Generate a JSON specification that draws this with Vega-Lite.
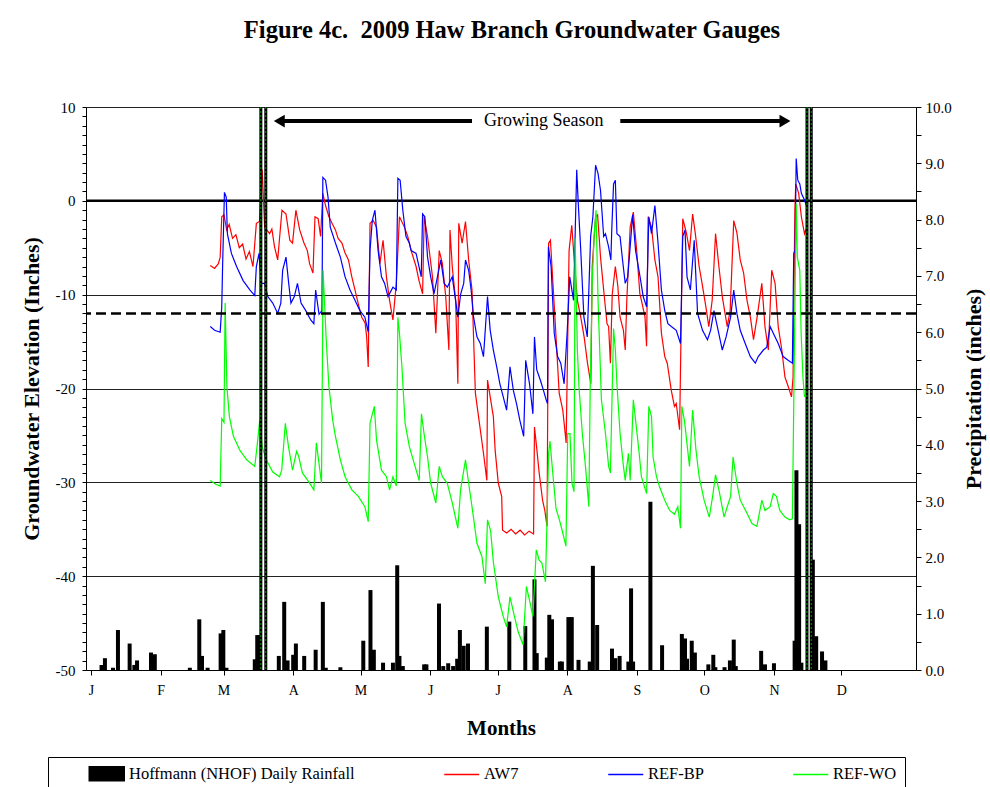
{
  "$schema": "https://vega.github.io/schema/vega-lite/v6.json",
  "width": 830,
  "height": 563,
  "autosize": {"type": "none"},
  "padding": {"left": 86, "top": 107, "right": 74, "bottom": 117},
  "background": "white",
  "config": {
    "font": "Liberation Serif",
    "view": {"stroke": null},
    "axis": {"labelColor": "black", "titleColor": "black", "tickColor": "black", "domainColor": "black", "labelFont": "Liberation Serif", "titleFont": "Liberation Serif"}
  },
  "title": {
    "text": "Figure 4c.\u00a0 2009 Haw Branch Groundwater Gauges",
    "font": "Liberation Serif",
    "fontSize": 24.5,
    "fontWeight": "bold",
    "color": "black",
    "anchor": "middle",
    "offset": 57,
    "dx": 11
  },
  "datasets": {
    "rain": [
      {"day": 4.7, "rain": 0.09}, {"day": 6.2, "rain": 0.21}, {"day": 9.8, "rain": 0.04}, {"day": 12, "rain": 0.71},
      {"day": 17.2, "rain": 0.47}, {"day": 19.3, "rain": 0.09}, {"day": 20.5, "rain": 0.17}, {"day": 26.7, "rain": 0.31},
      {"day": 28.4, "rain": 0.28}, {"day": 44, "rain": 0.04}, {"day": 48.2, "rain": 0.9}, {"day": 49.4, "rain": 0.25},
      {"day": 51.9, "rain": 0.04}, {"day": 57.7, "rain": 0.65}, {"day": 58.9, "rain": 0.71}, {"day": 60.3, "rain": 0.04},
      {"day": 72.9, "rain": 0.19}, {"day": 74, "rain": 0.62}, {"day": 74.9, "rain": 0.62}, {"day": 83.6, "rain": 0.25},
      {"day": 86, "rain": 1.21}, {"day": 87.5, "rain": 0.17}, {"day": 90, "rain": 0.27}, {"day": 91.2, "rain": 0.47},
      {"day": 94.9, "rain": 0.25}, {"day": 100, "rain": 0.36}, {"day": 103.2, "rain": 1.21}, {"day": 104.5, "rain": 0.04},
      {"day": 111, "rain": 0.05}, {"day": 121.2, "rain": 0.52}, {"day": 124.4, "rain": 1.42}, {"day": 125.9, "rain": 0.36},
      {"day": 130, "rain": 0.13}, {"day": 134.4, "rain": 0.13}, {"day": 136.3, "rain": 1.86}, {"day": 137.3, "rain": 0.25},
      {"day": 138.8, "rain": 0.07}, {"day": 148.3, "rain": 0.1}, {"day": 149.3, "rain": 0.1}, {"day": 154.9, "rain": 1.18},
      {"day": 156.8, "rain": 0.07}, {"day": 159, "rain": 0.12}, {"day": 161.2, "rain": 0.07}, {"day": 163, "rain": 0.2},
      {"day": 164.2, "rain": 0.71}, {"day": 165.9, "rain": 0.43}, {"day": 167.8, "rain": 0.47}, {"day": 176.2, "rain": 0.77},
      {"day": 186.2, "rain": 0.86}, {"day": 193.3, "rain": 0.78}, {"day": 197.4, "rain": 1.61}, {"day": 198.4, "rain": 0.3},
      {"day": 202.9, "rain": 0.22}, {"day": 204, "rain": 0.98}, {"day": 205.2, "rain": 0.9}, {"day": 208.7, "rain": 0.15},
      {"day": 209.6, "rain": 0.15}, {"day": 212.5, "rain": 0.94}, {"day": 214, "rain": 0.94}, {"day": 217, "rain": 0.18},
      {"day": 222, "rain": 0.15}, {"day": 223.4, "rain": 1.85}, {"day": 225.3, "rain": 0.8}, {"day": 231.9, "rain": 0.38},
      {"day": 233.4, "rain": 0.21}, {"day": 235.3, "rain": 0.25}, {"day": 239.2, "rain": 0.15}, {"day": 240.4, "rain": 1.45},
      {"day": 241.3, "rain": 0.15}, {"day": 249, "rain": 2.99}, {"day": 254.2, "rain": 0.44}, {"day": 263, "rain": 0.64},
      {"day": 264.4, "rain": 0.56}, {"day": 265.3, "rain": 0.2}, {"day": 267.4, "rain": 0.52}, {"day": 268.8, "rain": 0.31},
      {"day": 274.8, "rain": 0.1}, {"day": 277, "rain": 0.27}, {"day": 277.9, "rain": 0.05}, {"day": 282, "rain": 0.05},
      {"day": 284.4, "rain": 0.17}, {"day": 286.1, "rain": 0.54}, {"day": 287, "rain": 0.07}, {"day": 298.3, "rain": 0.34},
      {"day": 300, "rain": 0.1}, {"day": 304, "rain": 0.12}, {"day": 313.2, "rain": 0.52}, {"day": 314, "rain": 3.55},
      {"day": 315.2, "rain": 2.59}, {"day": 316.2, "rain": 0.13}, {"day": 321.3, "rain": 1.96}, {"day": 322.8, "rain": 0.6},
      {"day": 325.4, "rain": 0.33}, {"day": 326.9, "rain": 0.17}
    ],
    "gauges": [
      {"series": "AW7", "day": 53.1, "elev": -6.9}, {"series": "AW7", "day": 55, "elev": -7.2}, {"series": "AW7", "day": 56.7, "elev": -6.7},
      {"series": "AW7", "day": 57.5, "elev": -6.0}, {"series": "AW7", "day": 58.2, "elev": -1.7}, {"series": "AW7", "day": 59.2, "elev": -1.5},
      {"series": "AW7", "day": 60.4, "elev": -3.1}, {"series": "AW7", "day": 61.5, "elev": -2.5}, {"series": "AW7", "day": 63, "elev": -4.0},
      {"series": "AW7", "day": 64.5, "elev": -3.6}, {"series": "AW7", "day": 66, "elev": -5.0}, {"series": "AW7", "day": 67.5, "elev": -4.6},
      {"series": "AW7", "day": 69, "elev": -6.2}, {"series": "AW7", "day": 70.5, "elev": -5.4}, {"series": "AW7", "day": 72.1, "elev": -7.0},
      {"series": "AW7", "day": 73.6, "elev": -2.4}, {"series": "AW7", "day": 75, "elev": -2.2}, {"series": "AW7", "day": 76.2, "elev": 3.3},
      {"series": "AW7", "day": 77.3, "elev": -2.8}, {"series": "AW7", "day": 79.5, "elev": -3.5}, {"series": "AW7", "day": 80.5, "elev": -3.0},
      {"series": "AW7", "day": 81.7, "elev": -4.9}, {"series": "AW7", "day": 83.1, "elev": -6.3}, {"series": "AW7", "day": 85, "elev": -1.0},
      {"series": "AW7", "day": 86.8, "elev": -1.4}, {"series": "AW7", "day": 88.5, "elev": -4.2}, {"series": "AW7", "day": 89.7, "elev": -4.5},
      {"series": "AW7", "day": 91.2, "elev": -1.0}, {"series": "AW7", "day": 92.9, "elev": -3.1}, {"series": "AW7", "day": 94.8, "elev": -4.5},
      {"series": "AW7", "day": 96.3, "elev": -5.3}, {"series": "AW7", "day": 97.3, "elev": -6.7}, {"series": "AW7", "day": 98.8, "elev": -7.7},
      {"series": "AW7", "day": 99.7, "elev": -1.7}, {"series": "AW7", "day": 101.1, "elev": -1.9}, {"series": "AW7", "day": 102.2, "elev": -3.8},
      {"series": "AW7", "day": 103.2, "elev": 0.8}, {"series": "AW7", "day": 104.4, "elev": -0.5}, {"series": "AW7", "day": 105.9, "elev": -1.7},
      {"series": "AW7", "day": 107.5, "elev": -2.5}, {"series": "AW7", "day": 108.8, "elev": -3.1}, {"series": "AW7", "day": 110, "elev": -4.0},
      {"series": "AW7", "day": 111.7, "elev": -4.5}, {"series": "AW7", "day": 113, "elev": -5.5}, {"series": "AW7", "day": 114.6, "elev": -6.3},
      {"series": "AW7", "day": 116, "elev": -8.0}, {"series": "AW7", "day": 117.5, "elev": -9.5}, {"series": "AW7", "day": 119, "elev": -11.0},
      {"series": "AW7", "day": 120.5, "elev": -12.4}, {"series": "AW7", "day": 122, "elev": -13.0}, {"series": "AW7", "day": 122.7, "elev": -14.5},
      {"series": "AW7", "day": 123.4, "elev": -17.7}, {"series": "AW7", "day": 124.2, "elev": -2.4}, {"series": "AW7", "day": 125.6, "elev": -2.1},
      {"series": "AW7", "day": 127.1, "elev": -2.8}, {"series": "AW7", "day": 128.6, "elev": -6.7}, {"series": "AW7", "day": 130, "elev": -4.2},
      {"series": "AW7", "day": 131.5, "elev": -8.1}, {"series": "AW7", "day": 132.9, "elev": -10.6}, {"series": "AW7", "day": 134.4, "elev": -12.7},
      {"series": "AW7", "day": 135.9, "elev": -8.8}, {"series": "AW7", "day": 137.3, "elev": -1.7}, {"series": "AW7", "day": 139.5, "elev": -2.8},
      {"series": "AW7", "day": 141, "elev": -3.8}, {"series": "AW7", "day": 142.5, "elev": -5.3}, {"series": "AW7", "day": 144.7, "elev": -7.0},
      {"series": "AW7", "day": 146, "elev": -8.5}, {"series": "AW7", "day": 147.6, "elev": -9.9}, {"series": "AW7", "day": 148.3, "elev": -1.7},
      {"series": "AW7", "day": 149.8, "elev": -3.8}, {"series": "AW7", "day": 152, "elev": -8.1}, {"series": "AW7", "day": 153.5, "elev": -14.1},
      {"series": "AW7", "day": 155, "elev": -5.3}, {"series": "AW7", "day": 156.4, "elev": -6.7}, {"series": "AW7", "day": 157.9, "elev": -10.2},
      {"series": "AW7", "day": 159.3, "elev": -15.9}, {"series": "AW7", "day": 159.8, "elev": -3.1}, {"series": "AW7", "day": 160.8, "elev": -7.0},
      {"series": "AW7", "day": 162.3, "elev": -10.6}, {"series": "AW7", "day": 163.3, "elev": -19.5}, {"series": "AW7", "day": 163.7, "elev": -2.4},
      {"series": "AW7", "day": 165.2, "elev": -4.5}, {"series": "AW7", "day": 166.7, "elev": -2.2}, {"series": "AW7", "day": 168.1, "elev": -6.3},
      {"series": "AW7", "day": 169.6, "elev": -9.5}, {"series": "AW7", "day": 171.1, "elev": -20.5}, {"series": "AW7", "day": 172.5, "elev": -23.0},
      {"series": "AW7", "day": 174.7, "elev": -26.9}, {"series": "AW7", "day": 176.2, "elev": -29.8}, {"series": "AW7", "day": 176.5, "elev": -19.1},
      {"series": "AW7", "day": 179.1, "elev": -23.0}, {"series": "AW7", "day": 179.9, "elev": -26.6}, {"series": "AW7", "day": 181.3, "elev": -30.1},
      {"series": "AW7", "day": 182.8, "elev": -31.5}, {"series": "AW7", "day": 183.2, "elev": -35.1}, {"series": "AW7", "day": 185, "elev": -35.4},
      {"series": "AW7", "day": 187, "elev": -35.0}, {"series": "AW7", "day": 189, "elev": -35.5}, {"series": "AW7", "day": 191, "elev": -35.1},
      {"series": "AW7", "day": 193, "elev": -35.6}, {"series": "AW7", "day": 195, "elev": -35.2}, {"series": "AW7", "day": 197, "elev": -35.5},
      {"series": "AW7", "day": 197.4, "elev": -24.1}, {"series": "AW7", "day": 198.5, "elev": -26.6}, {"series": "AW7", "day": 199.5, "elev": -29.0},
      {"series": "AW7", "day": 201, "elev": -31.9}, {"series": "AW7", "day": 202, "elev": -33.0}, {"series": "AW7", "day": 203, "elev": -34.7},
      {"series": "AW7", "day": 203.7, "elev": -4.5}, {"series": "AW7", "day": 204.5, "elev": -4.2}, {"series": "AW7", "day": 206.5, "elev": -12.4},
      {"series": "AW7", "day": 208.4, "elev": -20.5}, {"series": "AW7", "day": 210, "elev": -22.3}, {"series": "AW7", "day": 211.5, "elev": -25.8},
      {"series": "AW7", "day": 212.8, "elev": -5.3}, {"series": "AW7", "day": 214, "elev": -2.6}, {"series": "AW7", "day": 215, "elev": -6.0},
      {"series": "AW7", "day": 216.5, "elev": -10.6}, {"series": "AW7", "day": 218, "elev": -12.4}, {"series": "AW7", "day": 219.5, "elev": -14.5},
      {"series": "AW7", "day": 221, "elev": -17.3}, {"series": "AW7", "day": 222.5, "elev": -19.5}, {"series": "AW7", "day": 223.1, "elev": -7.0},
      {"series": "AW7", "day": 224.6, "elev": -1.7}, {"series": "AW7", "day": 225.5, "elev": -1.5}, {"series": "AW7", "day": 226.8, "elev": -6.0},
      {"series": "AW7", "day": 228.2, "elev": -9.5}, {"series": "AW7", "day": 229.7, "elev": -13.1}, {"series": "AW7", "day": 230.4, "elev": -13.4},
      {"series": "AW7", "day": 231.2, "elev": -17.3}, {"series": "AW7", "day": 232, "elev": -10.0}, {"series": "AW7", "day": 233.4, "elev": -7.0},
      {"series": "AW7", "day": 234.5, "elev": -9.1}, {"series": "AW7", "day": 235.5, "elev": -12.4}, {"series": "AW7", "day": 237, "elev": -13.8},
      {"series": "AW7", "day": 237.8, "elev": -15.9}, {"series": "AW7", "day": 238.5, "elev": -10.6}, {"series": "AW7", "day": 240, "elev": -2.8},
      {"series": "AW7", "day": 241.4, "elev": -1.2}, {"series": "AW7", "day": 242.9, "elev": -5.3}, {"series": "AW7", "day": 244.3, "elev": -9.9},
      {"series": "AW7", "day": 245, "elev": -10.6}, {"series": "AW7", "day": 246.6, "elev": -12.4}, {"series": "AW7", "day": 247.3, "elev": -15.5},
      {"series": "AW7", "day": 248, "elev": -1.7}, {"series": "AW7", "day": 249.5, "elev": -2.8}, {"series": "AW7", "day": 251, "elev": -6.3},
      {"series": "AW7", "day": 252.4, "elev": -8.1}, {"series": "AW7", "day": 253.9, "elev": -14.1}, {"series": "AW7", "day": 255.4, "elev": -16.6},
      {"series": "AW7", "day": 256.5, "elev": -17.3}, {"series": "AW7", "day": 258.3, "elev": -20.2}, {"series": "AW7", "day": 259.7, "elev": -21.9},
      {"series": "AW7", "day": 260.5, "elev": -21.6}, {"series": "AW7", "day": 262, "elev": -24.4}, {"series": "AW7", "day": 263.4, "elev": -1.9},
      {"series": "AW7", "day": 265, "elev": -3.4}, {"series": "AW7", "day": 266.4, "elev": -5.3}, {"series": "AW7", "day": 267.8, "elev": -1.4},
      {"series": "AW7", "day": 269, "elev": -3.5}, {"series": "AW7", "day": 270.7, "elev": -7.0}, {"series": "AW7", "day": 272, "elev": -8.8},
      {"series": "AW7", "day": 273.7, "elev": -11.3}, {"series": "AW7", "day": 275, "elev": -13.4}, {"series": "AW7", "day": 276.5, "elev": -10.6},
      {"series": "AW7", "day": 278, "elev": -3.5}, {"series": "AW7", "day": 279.5, "elev": -7.0}, {"series": "AW7", "day": 281, "elev": -10.2},
      {"series": "AW7", "day": 283.2, "elev": -13.4}, {"series": "AW7", "day": 284.5, "elev": -11.7}, {"series": "AW7", "day": 286.1, "elev": -2.1},
      {"series": "AW7", "day": 287.5, "elev": -3.4}, {"series": "AW7", "day": 289, "elev": -6.3}, {"series": "AW7", "day": 290.5, "elev": -7.7},
      {"series": "AW7", "day": 292, "elev": -10.6}, {"series": "AW7", "day": 293.5, "elev": -12.4}, {"series": "AW7", "day": 294.9, "elev": -14.8},
      {"series": "AW7", "day": 296.5, "elev": -12.4}, {"series": "AW7", "day": 298.6, "elev": -8.8}, {"series": "AW7", "day": 300, "elev": -13.4},
      {"series": "AW7", "day": 301.5, "elev": -15.9}, {"series": "AW7", "day": 303, "elev": -7.4}, {"series": "AW7", "day": 304.5, "elev": -8.8},
      {"series": "AW7", "day": 305.9, "elev": -13.4}, {"series": "AW7", "day": 307.5, "elev": -15.9}, {"series": "AW7", "day": 308.9, "elev": -18.8},
      {"series": "AW7", "day": 310.5, "elev": -19.9}, {"series": "AW7", "day": 311.8, "elev": -20.9}, {"series": "AW7", "day": 312.5, "elev": -18.8},
      {"series": "AW7", "day": 313.3, "elev": -1.0}, {"series": "AW7", "day": 313.7, "elev": 1.8}, {"series": "AW7", "day": 315, "elev": 0.8},
      {"series": "AW7", "day": 316.2, "elev": -1.7}, {"series": "AW7", "day": 317.6, "elev": -3.5}, {"series": "AW7", "day": 318.4, "elev": -3.0},

      {"series": "REF-BP", "day": 53.1, "elev": -13.4}, {"series": "REF-BP", "day": 55, "elev": -13.8}, {"series": "REF-BP", "day": 57.5, "elev": -14.0},
      {"series": "REF-BP", "day": 58.2, "elev": -11.3}, {"series": "REF-BP", "day": 58.6, "elev": -6.7}, {"series": "REF-BP", "day": 59.4, "elev": 0.9},
      {"series": "REF-BP", "day": 60.2, "elev": 0.4}, {"series": "REF-BP", "day": 60.7, "elev": -3.5}, {"series": "REF-BP", "day": 62.5, "elev": -5.6},
      {"series": "REF-BP", "day": 64.8, "elev": -7.0}, {"series": "REF-BP", "day": 67.7, "elev": -8.5}, {"series": "REF-BP", "day": 70.7, "elev": -9.5},
      {"series": "REF-BP", "day": 72.9, "elev": -10.1}, {"series": "REF-BP", "day": 73.6, "elev": -7.0}, {"series": "REF-BP", "day": 74.8, "elev": -5.6},
      {"series": "REF-BP", "day": 75.8, "elev": -8.8}, {"series": "REF-BP", "day": 77.3, "elev": -8.8}, {"series": "REF-BP", "day": 78.7, "elev": -10.2},
      {"series": "REF-BP", "day": 80.9, "elev": -10.9}, {"series": "REF-BP", "day": 83.1, "elev": -12.0}, {"series": "REF-BP", "day": 84.5, "elev": -10.9},
      {"series": "REF-BP", "day": 85.3, "elev": -7.4}, {"series": "REF-BP", "day": 86.8, "elev": -6.0}, {"series": "REF-BP", "day": 88, "elev": -8.8},
      {"series": "REF-BP", "day": 89, "elev": -10.9}, {"series": "REF-BP", "day": 90.5, "elev": -10.2}, {"series": "REF-BP", "day": 91.9, "elev": -8.8},
      {"series": "REF-BP", "day": 93.5, "elev": -10.9}, {"series": "REF-BP", "day": 95.6, "elev": -11.7}, {"series": "REF-BP", "day": 97.8, "elev": -12.7},
      {"series": "REF-BP", "day": 99.2, "elev": -13.1}, {"series": "REF-BP", "day": 100, "elev": -9.5}, {"series": "REF-BP", "day": 101.5, "elev": -12.1},
      {"series": "REF-BP", "day": 102.8, "elev": -11.7}, {"series": "REF-BP", "day": 103.2, "elev": 2.5}, {"series": "REF-BP", "day": 104.4, "elev": 2.2},
      {"series": "REF-BP", "day": 105.5, "elev": 0.4}, {"series": "REF-BP", "day": 106.5, "elev": -2.8}, {"series": "REF-BP", "day": 108.8, "elev": -4.5},
      {"series": "REF-BP", "day": 111, "elev": -6.0}, {"series": "REF-BP", "day": 113.1, "elev": -8.1}, {"series": "REF-BP", "day": 115.3, "elev": -9.5},
      {"series": "REF-BP", "day": 117.5, "elev": -10.6}, {"series": "REF-BP", "day": 119.7, "elev": -11.7}, {"series": "REF-BP", "day": 121.9, "elev": -12.4},
      {"series": "REF-BP", "day": 123.4, "elev": -14.0}, {"series": "REF-BP", "day": 124.2, "elev": -5.3}, {"series": "REF-BP", "day": 125.2, "elev": -2.1},
      {"series": "REF-BP", "day": 126.4, "elev": -1.0}, {"series": "REF-BP", "day": 127.8, "elev": -5.3}, {"series": "REF-BP", "day": 129.3, "elev": -8.1},
      {"series": "REF-BP", "day": 130.7, "elev": -8.8}, {"series": "REF-BP", "day": 132.2, "elev": -10.2}, {"series": "REF-BP", "day": 134.4, "elev": -9.2},
      {"series": "REF-BP", "day": 135.9, "elev": -9.5}, {"series": "REF-BP", "day": 136.6, "elev": 2.4}, {"series": "REF-BP", "day": 137.6, "elev": 2.2},
      {"series": "REF-BP", "day": 138.8, "elev": -1.0}, {"series": "REF-BP", "day": 140.2, "elev": -3.8}, {"series": "REF-BP", "day": 141.7, "elev": -4.5},
      {"series": "REF-BP", "day": 142.5, "elev": -5.3}, {"series": "REF-BP", "day": 144.7, "elev": -5.6}, {"series": "REF-BP", "day": 146, "elev": -7.0},
      {"series": "REF-BP", "day": 147, "elev": -8.1}, {"series": "REF-BP", "day": 147.6, "elev": -1.4}, {"series": "REF-BP", "day": 148.6, "elev": -1.7},
      {"series": "REF-BP", "day": 149.8, "elev": -6.0}, {"series": "REF-BP", "day": 151.2, "elev": -8.1}, {"series": "REF-BP", "day": 152.7, "elev": -9.9},
      {"series": "REF-BP", "day": 154.2, "elev": -8.1}, {"series": "REF-BP", "day": 155.7, "elev": -6.3}, {"series": "REF-BP", "day": 157.2, "elev": -8.8},
      {"series": "REF-BP", "day": 158.6, "elev": -9.2}, {"series": "REF-BP", "day": 160.8, "elev": -8.1}, {"series": "REF-BP", "day": 162.3, "elev": -10.6},
      {"series": "REF-BP", "day": 163.3, "elev": -12.4}, {"series": "REF-BP", "day": 164.5, "elev": -10.0}, {"series": "REF-BP", "day": 165.9, "elev": -8.8},
      {"series": "REF-BP", "day": 166.7, "elev": -6.3}, {"series": "REF-BP", "day": 168.1, "elev": -7.4}, {"series": "REF-BP", "day": 169.2, "elev": -9.5},
      {"series": "REF-BP", "day": 170.3, "elev": -12.4}, {"series": "REF-BP", "day": 171.8, "elev": -14.5}, {"series": "REF-BP", "day": 173.3, "elev": -15.2},
      {"series": "REF-BP", "day": 174.7, "elev": -16.6}, {"series": "REF-BP", "day": 176.5, "elev": -10.2}, {"series": "REF-BP", "day": 177.7, "elev": -13.8},
      {"series": "REF-BP", "day": 179.1, "elev": -15.9}, {"series": "REF-BP", "day": 180.6, "elev": -17.7}, {"series": "REF-BP", "day": 182, "elev": -19.5},
      {"series": "REF-BP", "day": 183.5, "elev": -20.9}, {"series": "REF-BP", "day": 185, "elev": -22.3}, {"series": "REF-BP", "day": 186.5, "elev": -17.7},
      {"series": "REF-BP", "day": 188, "elev": -20.2}, {"series": "REF-BP", "day": 189.4, "elev": -21.6}, {"series": "REF-BP", "day": 190.9, "elev": -23.4},
      {"series": "REF-BP", "day": 192.6, "elev": -25.1}, {"series": "REF-BP", "day": 193.5, "elev": -17.0}, {"series": "REF-BP", "day": 195.2, "elev": -19.5},
      {"series": "REF-BP", "day": 196.7, "elev": -22.7}, {"series": "REF-BP", "day": 197.4, "elev": -14.5}, {"series": "REF-BP", "day": 198.4, "elev": -18.0},
      {"series": "REF-BP", "day": 200, "elev": -19.1}, {"series": "REF-BP", "day": 201.4, "elev": -20.2}, {"series": "REF-BP", "day": 202.6, "elev": -21.2},
      {"series": "REF-BP", "day": 203.2, "elev": -21.6}, {"series": "REF-BP", "day": 203.6, "elev": -4.9}, {"series": "REF-BP", "day": 204.8, "elev": -7.0},
      {"series": "REF-BP", "day": 206.2, "elev": -14.1}, {"series": "REF-BP", "day": 207.7, "elev": -16.6}, {"series": "REF-BP", "day": 209.1, "elev": -17.3},
      {"series": "REF-BP", "day": 210.6, "elev": -19.5}, {"series": "REF-BP", "day": 212, "elev": -13.8}, {"series": "REF-BP", "day": 213.1, "elev": -8.1},
      {"series": "REF-BP", "day": 214.8, "elev": -10.6}, {"series": "REF-BP", "day": 216.2, "elev": 3.3}, {"series": "REF-BP", "day": 216.9, "elev": -0.3},
      {"series": "REF-BP", "day": 218, "elev": -5.3}, {"series": "REF-BP", "day": 219.4, "elev": -12.4}, {"series": "REF-BP", "day": 220.9, "elev": -14.5},
      {"series": "REF-BP", "day": 222.4, "elev": -3.8}, {"series": "REF-BP", "day": 223.4, "elev": -1.7}, {"series": "REF-BP", "day": 224.6, "elev": 3.8},
      {"series": "REF-BP", "day": 225.7, "elev": 2.9}, {"series": "REF-BP", "day": 226.8, "elev": 1.1}, {"series": "REF-BP", "day": 228.2, "elev": -3.8},
      {"series": "REF-BP", "day": 229, "elev": -3.5}, {"series": "REF-BP", "day": 230.4, "elev": -4.9}, {"series": "REF-BP", "day": 231.4, "elev": -6.3},
      {"series": "REF-BP", "day": 231.8, "elev": -3.1}, {"series": "REF-BP", "day": 232.6, "elev": 1.8}, {"series": "REF-BP", "day": 233.4, "elev": 2.2},
      {"series": "REF-BP", "day": 234.1, "elev": -3.5}, {"series": "REF-BP", "day": 235.5, "elev": -3.8}, {"series": "REF-BP", "day": 236.6, "elev": -6.3},
      {"series": "REF-BP", "day": 237.8, "elev": -8.8}, {"series": "REF-BP", "day": 238.9, "elev": -8.1}, {"series": "REF-BP", "day": 240, "elev": -4.9},
      {"series": "REF-BP", "day": 241.1, "elev": -1.5}, {"series": "REF-BP", "day": 242.4, "elev": -5.3}, {"series": "REF-BP", "day": 244.4, "elev": -8.1},
      {"series": "REF-BP", "day": 245.8, "elev": -10.2}, {"series": "REF-BP", "day": 247.3, "elev": -11.3}, {"series": "REF-BP", "day": 248.3, "elev": -1.7},
      {"series": "REF-BP", "day": 249.5, "elev": -3.5}, {"series": "REF-BP", "day": 251, "elev": -0.5}, {"series": "REF-BP", "day": 252.4, "elev": -4.5},
      {"series": "REF-BP", "day": 253.9, "elev": -9.5}, {"series": "REF-BP", "day": 255.4, "elev": -11.7}, {"series": "REF-BP", "day": 256.8, "elev": -13.1},
      {"series": "REF-BP", "day": 258.3, "elev": -13.4}, {"series": "REF-BP", "day": 260.5, "elev": -13.8}, {"series": "REF-BP", "day": 262.4, "elev": -15.2},
      {"series": "REF-BP", "day": 263.4, "elev": -3.8}, {"series": "REF-BP", "day": 264.4, "elev": -3.1}, {"series": "REF-BP", "day": 265.3, "elev": -8.1},
      {"series": "REF-BP", "day": 266.8, "elev": -9.5}, {"series": "REF-BP", "day": 268.5, "elev": -4.2}, {"series": "REF-BP", "day": 270, "elev": -12.0},
      {"series": "REF-BP", "day": 272.2, "elev": -13.8}, {"series": "REF-BP", "day": 274.4, "elev": -14.8}, {"series": "REF-BP", "day": 275.8, "elev": -13.8},
      {"series": "REF-BP", "day": 277.3, "elev": -11.7}, {"series": "REF-BP", "day": 278.8, "elev": -13.4}, {"series": "REF-BP", "day": 281, "elev": -15.9},
      {"series": "REF-BP", "day": 282.7, "elev": -14.5}, {"series": "REF-BP", "day": 284.7, "elev": -12.4}, {"series": "REF-BP", "day": 286.1, "elev": -9.5},
      {"series": "REF-BP", "day": 287.5, "elev": -12.0}, {"series": "REF-BP", "day": 289, "elev": -13.8}, {"series": "REF-BP", "day": 291.2, "elev": -15.2},
      {"series": "REF-BP", "day": 293.5, "elev": -16.6}, {"series": "REF-BP", "day": 295.7, "elev": -17.3}, {"series": "REF-BP", "day": 297, "elev": -16.6},
      {"series": "REF-BP", "day": 299.3, "elev": -15.9}, {"series": "REF-BP", "day": 300.8, "elev": -15.6}, {"series": "REF-BP", "day": 302.3, "elev": -13.4},
      {"series": "REF-BP", "day": 303.7, "elev": -14.1}, {"series": "REF-BP", "day": 305.9, "elev": -15.2}, {"series": "REF-BP", "day": 308.1, "elev": -16.6},
      {"series": "REF-BP", "day": 310.3, "elev": -17.0}, {"series": "REF-BP", "day": 312.2, "elev": -17.3}, {"series": "REF-BP", "day": 312.8, "elev": -5.6},
      {"series": "REF-BP", "day": 313.4, "elev": -5.3}, {"series": "REF-BP", "day": 313.9, "elev": 4.5}, {"series": "REF-BP", "day": 314.6, "elev": 2.2},
      {"series": "REF-BP", "day": 315.5, "elev": 1.8}, {"series": "REF-BP", "day": 316.2, "elev": 0.8}, {"series": "REF-BP", "day": 317.6, "elev": 0.1},
      {"series": "REF-BP", "day": 318.4, "elev": -0.5},

      {"series": "REF-WO", "day": 53.1, "elev": -29.8}, {"series": "REF-WO", "day": 55.5, "elev": -30.2}, {"series": "REF-WO", "day": 57.5, "elev": -30.4},
      {"series": "REF-WO", "day": 58.2, "elev": -23.2}, {"series": "REF-WO", "day": 59.2, "elev": -23.6}, {"series": "REF-WO", "day": 59.7, "elev": -10.9},
      {"series": "REF-WO", "day": 60.5, "elev": -19.8}, {"series": "REF-WO", "day": 61.6, "elev": -23.0}, {"series": "REF-WO", "day": 63.4, "elev": -25.1},
      {"series": "REF-WO", "day": 66.3, "elev": -26.6}, {"series": "REF-WO", "day": 69.3, "elev": -27.6}, {"series": "REF-WO", "day": 72.9, "elev": -28.3},
      {"series": "REF-WO", "day": 73.9, "elev": -26.2}, {"series": "REF-WO", "day": 75.1, "elev": -23.4}, {"series": "REF-WO", "day": 76.2, "elev": -26.2},
      {"series": "REF-WO", "day": 78, "elev": -27.6}, {"series": "REF-WO", "day": 80.9, "elev": -28.9}, {"series": "REF-WO", "day": 83.9, "elev": -29.4},
      {"series": "REF-WO", "day": 84.9, "elev": -28.7}, {"series": "REF-WO", "day": 86.5, "elev": -23.7}, {"series": "REF-WO", "day": 87.9, "elev": -26.2},
      {"series": "REF-WO", "day": 89.7, "elev": -28.7}, {"series": "REF-WO", "day": 91.5, "elev": -26.7}, {"series": "REF-WO", "day": 92.4, "elev": -27.2},
      {"series": "REF-WO", "day": 94.1, "elev": -29.0}, {"series": "REF-WO", "day": 96.8, "elev": -29.9}, {"series": "REF-WO", "day": 99.2, "elev": -30.8},
      {"series": "REF-WO", "day": 100.3, "elev": -25.8}, {"series": "REF-WO", "day": 101.5, "elev": -28.0}, {"series": "REF-WO", "day": 102.6, "elev": -30.1},
      {"series": "REF-WO", "day": 103.3, "elev": -7.4}, {"series": "REF-WO", "day": 104.7, "elev": -14.8}, {"series": "REF-WO", "day": 105.9, "elev": -19.8},
      {"series": "REF-WO", "day": 107.6, "elev": -23.4}, {"series": "REF-WO", "day": 108.8, "elev": -25.1}, {"series": "REF-WO", "day": 111, "elev": -27.6},
      {"series": "REF-WO", "day": 113.1, "elev": -29.4}, {"series": "REF-WO", "day": 116.1, "elev": -30.8}, {"series": "REF-WO", "day": 119, "elev": -31.5},
      {"series": "REF-WO", "day": 121.9, "elev": -32.6}, {"series": "REF-WO", "day": 123.4, "elev": -34.2}, {"series": "REF-WO", "day": 124.2, "elev": -23.7},
      {"series": "REF-WO", "day": 126.1, "elev": -21.9}, {"series": "REF-WO", "day": 127.1, "elev": -25.5}, {"series": "REF-WO", "day": 129.3, "elev": -28.7},
      {"series": "REF-WO", "day": 131.5, "elev": -29.4}, {"series": "REF-WO", "day": 132.9, "elev": -30.8}, {"series": "REF-WO", "day": 134.4, "elev": -29.4},
      {"series": "REF-WO", "day": 135.9, "elev": -30.4}, {"series": "REF-WO", "day": 136.6, "elev": -12.4}, {"series": "REF-WO", "day": 137.3, "elev": -14.1},
      {"series": "REF-WO", "day": 138.4, "elev": -17.7}, {"series": "REF-WO", "day": 139.8, "elev": -23.7}, {"series": "REF-WO", "day": 141.7, "elev": -26.2},
      {"series": "REF-WO", "day": 143.9, "elev": -28.0}, {"series": "REF-WO", "day": 146.1, "elev": -29.8}, {"series": "REF-WO", "day": 147.1, "elev": -22.7},
      {"series": "REF-WO", "day": 148.3, "elev": -24.9}, {"series": "REF-WO", "day": 149.8, "elev": -27.3}, {"series": "REF-WO", "day": 151.2, "elev": -30.1},
      {"series": "REF-WO", "day": 153.5, "elev": -32.2}, {"series": "REF-WO", "day": 155, "elev": -28.3}, {"series": "REF-WO", "day": 156.4, "elev": -29.4},
      {"series": "REF-WO", "day": 158.6, "elev": -30.1}, {"series": "REF-WO", "day": 160.8, "elev": -32.2}, {"series": "REF-WO", "day": 163.3, "elev": -34.9},
      {"series": "REF-WO", "day": 164.5, "elev": -30.8}, {"series": "REF-WO", "day": 166.7, "elev": -27.6}, {"series": "REF-WO", "day": 168.1, "elev": -30.1},
      {"series": "REF-WO", "day": 169.6, "elev": -32.6}, {"series": "REF-WO", "day": 171.8, "elev": -36.5}, {"series": "REF-WO", "day": 174, "elev": -37.9},
      {"series": "REF-WO", "day": 175.5, "elev": -40.8}, {"series": "REF-WO", "day": 176.5, "elev": -34.0}, {"series": "REF-WO", "day": 177.9, "elev": -35.2},
      {"series": "REF-WO", "day": 179.1, "elev": -38.5}, {"series": "REF-WO", "day": 181.3, "elev": -42.2}, {"series": "REF-WO", "day": 183.5, "elev": -44.3},
      {"series": "REF-WO", "day": 185, "elev": -45.4}, {"series": "REF-WO", "day": 186.5, "elev": -42.2}, {"series": "REF-WO", "day": 188.5, "elev": -44.3},
      {"series": "REF-WO", "day": 190.1, "elev": -45.9}, {"series": "REF-WO", "day": 192.3, "elev": -47.3}, {"series": "REF-WO", "day": 193.8, "elev": -41.1},
      {"series": "REF-WO", "day": 195.5, "elev": -42.9}, {"series": "REF-WO", "day": 196.7, "elev": -44.3}, {"series": "REF-WO", "day": 198.2, "elev": -37.2},
      {"series": "REF-WO", "day": 199.5, "elev": -38.3}, {"series": "REF-WO", "day": 200.7, "elev": -38.6}, {"series": "REF-WO", "day": 202.3, "elev": -40.6},
      {"series": "REF-WO", "day": 203.7, "elev": -26.9}, {"series": "REF-WO", "day": 204.3, "elev": -25.6}, {"series": "REF-WO", "day": 205.5, "elev": -28.9},
      {"series": "REF-WO", "day": 207, "elev": -32.8}, {"series": "REF-WO", "day": 208.5, "elev": -34.0}, {"series": "REF-WO", "day": 210, "elev": -35.4},
      {"series": "REF-WO", "day": 211.4, "elev": -36.8}, {"series": "REF-WO", "day": 212.2, "elev": -24.8}, {"series": "REF-WO", "day": 213.2, "elev": -24.8},
      {"series": "REF-WO", "day": 214.1, "elev": -30.1}, {"series": "REF-WO", "day": 215, "elev": -31.0}, {"series": "REF-WO", "day": 215.5, "elev": -4.0},
      {"series": "REF-WO", "day": 216.5, "elev": -15.9}, {"series": "REF-WO", "day": 217.2, "elev": -19.8}, {"series": "REF-WO", "day": 218.7, "elev": -24.8},
      {"series": "REF-WO", "day": 220.1, "elev": -28.3}, {"series": "REF-WO", "day": 221.6, "elev": -32.6}, {"series": "REF-WO", "day": 222.2, "elev": -20.0},
      {"series": "REF-WO", "day": 223.1, "elev": -8.8}, {"series": "REF-WO", "day": 224, "elev": -3.5}, {"series": "REF-WO", "day": 224.8, "elev": -1.0},
      {"series": "REF-WO", "day": 225.7, "elev": -10.6}, {"series": "REF-WO", "day": 227.2, "elev": -21.2}, {"series": "REF-WO", "day": 229, "elev": -24.8},
      {"series": "REF-WO", "day": 230.4, "elev": -28.3}, {"series": "REF-WO", "day": 231.2, "elev": -29.0}, {"series": "REF-WO", "day": 232.6, "elev": -13.6},
      {"series": "REF-WO", "day": 233.4, "elev": -15.9}, {"series": "REF-WO", "day": 234.1, "elev": -19.5}, {"series": "REF-WO", "day": 235.5, "elev": -24.8},
      {"series": "REF-WO", "day": 237, "elev": -28.3}, {"series": "REF-WO", "day": 237.8, "elev": -29.8}, {"series": "REF-WO", "day": 239.2, "elev": -26.9},
      {"series": "REF-WO", "day": 240, "elev": -29.8}, {"series": "REF-WO", "day": 241.4, "elev": -21.2}, {"series": "REF-WO", "day": 242.1, "elev": -22.7},
      {"series": "REF-WO", "day": 244, "elev": -26.9}, {"series": "REF-WO", "day": 245, "elev": -29.4}, {"series": "REF-WO", "day": 247.3, "elev": -31.2},
      {"series": "REF-WO", "day": 248.3, "elev": -21.9}, {"series": "REF-WO", "day": 249.5, "elev": -23.0}, {"series": "REF-WO", "day": 250.2, "elev": -27.3},
      {"series": "REF-WO", "day": 251.7, "elev": -29.4}, {"series": "REF-WO", "day": 253.1, "elev": -30.5}, {"series": "REF-WO", "day": 255.4, "elev": -31.9},
      {"series": "REF-WO", "day": 257.6, "elev": -33.0}, {"series": "REF-WO", "day": 259.7, "elev": -33.4}, {"series": "REF-WO", "day": 261.2, "elev": -32.6},
      {"series": "REF-WO", "day": 262.4, "elev": -34.9}, {"series": "REF-WO", "day": 263, "elev": -21.9}, {"series": "REF-WO", "day": 264.2, "elev": -23.5},
      {"series": "REF-WO", "day": 266.4, "elev": -28.3}, {"series": "REF-WO", "day": 267.8, "elev": -22.3}, {"series": "REF-WO", "day": 269.3, "elev": -26.6},
      {"series": "REF-WO", "day": 270.7, "elev": -29.4}, {"series": "REF-WO", "day": 272.9, "elev": -31.9}, {"series": "REF-WO", "day": 275.2, "elev": -33.7},
      {"series": "REF-WO", "day": 276.7, "elev": -31.5}, {"series": "REF-WO", "day": 278, "elev": -29.2}, {"series": "REF-WO", "day": 279.5, "elev": -30.8},
      {"series": "REF-WO", "day": 281.8, "elev": -33.7}, {"series": "REF-WO", "day": 283.2, "elev": -32.6}, {"series": "REF-WO", "day": 284.7, "elev": -31.5},
      {"series": "REF-WO", "day": 285.8, "elev": -27.3}, {"series": "REF-WO", "day": 287.5, "elev": -30.1}, {"series": "REF-WO", "day": 289, "elev": -31.9},
      {"series": "REF-WO", "day": 292, "elev": -33.3}, {"series": "REF-WO", "day": 294.2, "elev": -34.4}, {"series": "REF-WO", "day": 296.4, "elev": -34.7},
      {"series": "REF-WO", "day": 298.6, "elev": -31.9}, {"series": "REF-WO", "day": 300, "elev": -33.0}, {"series": "REF-WO", "day": 302.3, "elev": -32.6},
      {"series": "REF-WO", "day": 303.7, "elev": -31.2}, {"series": "REF-WO", "day": 305.1, "elev": -31.5}, {"series": "REF-WO", "day": 306.6, "elev": -33.0},
      {"series": "REF-WO", "day": 308.9, "elev": -33.7}, {"series": "REF-WO", "day": 311, "elev": -34.0}, {"series": "REF-WO", "day": 312.2, "elev": -33.9},
      {"series": "REF-WO", "day": 312.8, "elev": -21.9}, {"series": "REF-WO", "day": 313.4, "elev": -9.9}, {"series": "REF-WO", "day": 313.9, "elev": -0.3},
      {"series": "REF-WO", "day": 314.4, "elev": -6.0}, {"series": "REF-WO", "day": 315.5, "elev": -7.4}, {"series": "REF-WO", "day": 316.1, "elev": -14.1},
      {"series": "REF-WO", "day": 316.9, "elev": -18.8}, {"series": "REF-WO", "day": 317.6, "elev": -20.9}
    ],
    "season": [{"day": 75.6}, {"day": 77.8}, {"day": 318.7}, {"day": 320.6}]
  },
  "layer": [
    {
      "data": {"name": "rain"},
      "mark": {"type": "bar", "size": 4},
      "encoding": {
        "x": {
          "field": "day", "type": "quantitative", "title": "Months",
          "scale": {"domain": [0, 365], "nice": false, "zero": false},
          "axis": {
            "title": "Months",
            "values": [0, 31, 59, 90, 120, 151, 181, 212, 243, 273, 304, 334],
            "tickCount": 50,
            "labelExpr": "['J','F','M','A','M','J','J','A','S','O','N','D'][indexof([0,31,59,90,120,151,181,212,243,273,304,334], datum.value)]",
            "grid": false, "tickSize": 5, "labelFontSize": 14, "labelPadding": 8,
            "titleFontSize": 21, "titleFontWeight": "bold", "titlePadding": 20,
            "labelOverlap": false, "labelFlush": false
          }
        },
        "y": {
          "field": "rain", "type": "quantitative",
          "scale": {"domain": [0, 10], "nice": false},
          "axis": {
            "orient": "right",
            "title": "Precipitation (inches)",
            "values": [0, 0.5, 1, 1.5, 2, 2.5, 3, 3.5, 4, 4.5, 5, 5.5, 6, 6.5, 7, 7.5, 8, 8.5, 9, 9.5, 10],
            "tickCount": 50,
            "labelExpr": "datum.value % 1 === 0 ? format(datum.value, '.1f') : ''",
            "grid": false, "tickSize": 5, "labelFontSize": 15, "labelPadding": 4,
            "titleFontSize": 22, "titleFontWeight": "bold", "titlePadding": 12, "titleAngle": -90, "titleBaseline": "top",
            "labelOverlap": false
          }
        },
        "color": {"datum": "Hoffmann (NHOF) Daily Rainfall", "type": "nominal"}
      }
    },
    {
      "layer": [
        {
          "data": {"values": [{}]},
          "mark": {"type": "rule", "color": "black", "strokeWidth": 2.5},
          "encoding": {
            "y": {
              "datum": 0, "type": "quantitative", "title": "Groundwater Elevation (Inches)",
              "scale": {"domain": [-50, 10], "nice": false, "zero": false},
              "axis": {
                "orient": "left",
                "title": "Groundwater Elevation (Inches)",
                "values": [-50,-49,-48,-47,-46,-45,-44,-43,-42,-41,-40,-39,-38,-37,-36,-35,-34,-33,-32,-31,-30,-29,-28,-27,-26,-25,-24,-23,-22,-21,-20,-19,-18,-17,-16,-15,-14,-13,-12,-11,-10,-9,-8,-7,-6,-5,-4,-3,-2,-1,0,1,2,3,4,5,6,7,8,9,10],
                "tickCount": 100,
                "labelExpr": "datum.value % 10 === 0 ? '' + datum.value : ''",
                "grid": true, "gridColor": "#222222", "gridWidth": 1,
                "gridOpacity": {"condition": {"test": "datum.value % 10 === 0", "value": 1}, "value": 0},
                "tickSize": 4, "labelFontSize": 15, "labelPadding": 7,
                "titleFontSize": 22, "titleFontWeight": "bold", "titlePadding": 12,
                "labelOverlap": false
              }
            }
          }
        },
        {
          "data": {"name": "gauges"},
          "mark": {"type": "line", "strokeWidth": 1.2},
          "encoding": {
            "x": {"field": "day", "type": "quantitative", "title": "Months"},
            "y": {
              "field": "elev", "type": "quantitative", "title": "Groundwater Elevation (Inches)",
              "scale": {"domain": [-50, 10], "nice": false, "zero": false},
              "axis": {
                "orient": "left",
                "title": "Groundwater Elevation (Inches)",
                "values": [-50,-49,-48,-47,-46,-45,-44,-43,-42,-41,-40,-39,-38,-37,-36,-35,-34,-33,-32,-31,-30,-29,-28,-27,-26,-25,-24,-23,-22,-21,-20,-19,-18,-17,-16,-15,-14,-13,-12,-11,-10,-9,-8,-7,-6,-5,-4,-3,-2,-1,0,1,2,3,4,5,6,7,8,9,10],
                "tickCount": 100,
                "labelExpr": "datum.value % 10 === 0 ? '' + datum.value : ''",
                "grid": true, "gridColor": "#222222", "gridWidth": 1,
                "gridOpacity": {"condition": {"test": "datum.value % 10 === 0", "value": 1}, "value": 0},
                "tickSize": 4, "labelFontSize": 15, "labelPadding": 7,
                "titleFontSize": 22, "titleFontWeight": "bold", "titlePadding": 12,
                "labelOverlap": false
              }
            },
            "color": {
              "field": "series", "type": "nominal",
              "scale": {
                "domain": ["Hoffmann (NHOF) Daily Rainfall", "AW7", "REF-BP", "REF-WO"],
                "range": ["#000000", "#ff0000", "#0000ff", "#00ff00"]
              },
              "legend": {
                "title": null,
                "orient": "none",
                "legendX": -38,
                "legendY": 650,
                "direction": "horizontal",
                "strokeColor": "black",
                "fillColor": "white",
                "padding": 8,
                "labelFont": "Liberation Serif",
                "labelFontSize": 16.5,
                "labelColor": "black",
                "labelLimit": 400,
                "symbolSize": 196,
                "symbolOffset": 42.5,
                "labelOffset": 14,
                "columnPadding": 56,
                "symbolStrokeWidth": 1.5,
                "encode": {
                  "symbols": {
                    "update": {
                      "shape": {"signal": "datum.value === 'Hoffmann (NHOF) Daily Rainfall' ? 'M-2.5,-1H2.5V1H-2.5Z' : 'M-2.5,0H2.5'"},
                      "fill": {"signal": "datum.value === 'Hoffmann (NHOF) Daily Rainfall' ? '#000000' : 'transparent'"},
                      "stroke": {"signal": "scale('color', datum.value)"},
                      "opacity": {"value": 1}
                    }
                  }
                }
              }
            }
          }
        },
        {
          "data": {"values": [{}]},
          "mark": {"type": "rule", "color": "black", "strokeWidth": 2.5, "strokeDash": [10, 5]},
          "encoding": {"y": {"datum": -12, "type": "quantitative"}}
        },
        {
          "data": {"name": "season"},
          "mark": {"type": "rule", "color": "black", "strokeWidth": 3},
          "encoding": {"x": {"field": "day", "type": "quantitative", "title": "Months"}}
        },
        {
          "data": {"name": "season"},
          "mark": {"type": "rule", "color": "#00a000", "strokeWidth": 1, "strokeDash": [2, 2]},
          "encoding": {"x": {"field": "day", "type": "quantitative", "title": "Months"}}
        },
        {
          "data": {"values": [{}]},
          "mark": {"type": "rule", "color": "black", "strokeWidth": 4},
          "encoding": {"x": {"datum": 84, "type": "quantitative"}, "x2": {"datum": 169.6}, "y": {"datum": 8.5, "type": "quantitative"}}
        },
        {
          "data": {"values": [{}]},
          "mark": {"type": "rule", "color": "black", "strokeWidth": 4},
          "encoding": {"x": {"datum": 235.6, "type": "quantitative"}, "x2": {"datum": 309}, "y": {"datum": 8.5, "type": "quantitative"}}
        },
        {
          "data": {"values": [{}]},
          "mark": {"type": "point", "shape": "triangle-left", "filled": true, "color": "black", "size": 160, "opacity": 1},
          "encoding": {"x": {"datum": 83.8, "type": "quantitative"}, "y": {"datum": 8.5, "type": "quantitative"}}
        },
        {
          "data": {"values": [{}]},
          "mark": {"type": "point", "shape": "triangle-right", "filled": true, "color": "black", "size": 160, "opacity": 1},
          "encoding": {"x": {"datum": 308.9, "type": "quantitative"}, "y": {"datum": 8.5, "type": "quantitative"}}
        },
        {
          "data": {"values": [{}]},
          "mark": {"type": "text", "font": "Liberation Serif", "fontSize": 18, "color": "black", "baseline": "middle", "align": "center"},
          "encoding": {"x": {"datum": 201.5, "type": "quantitative"}, "y": {"datum": 8.5, "type": "quantitative"}, "text": {"value": "Growing Season"}}
        }
      ]
    }
  ],
  "resolve": {"scale": {"y": "independent"}}
}
